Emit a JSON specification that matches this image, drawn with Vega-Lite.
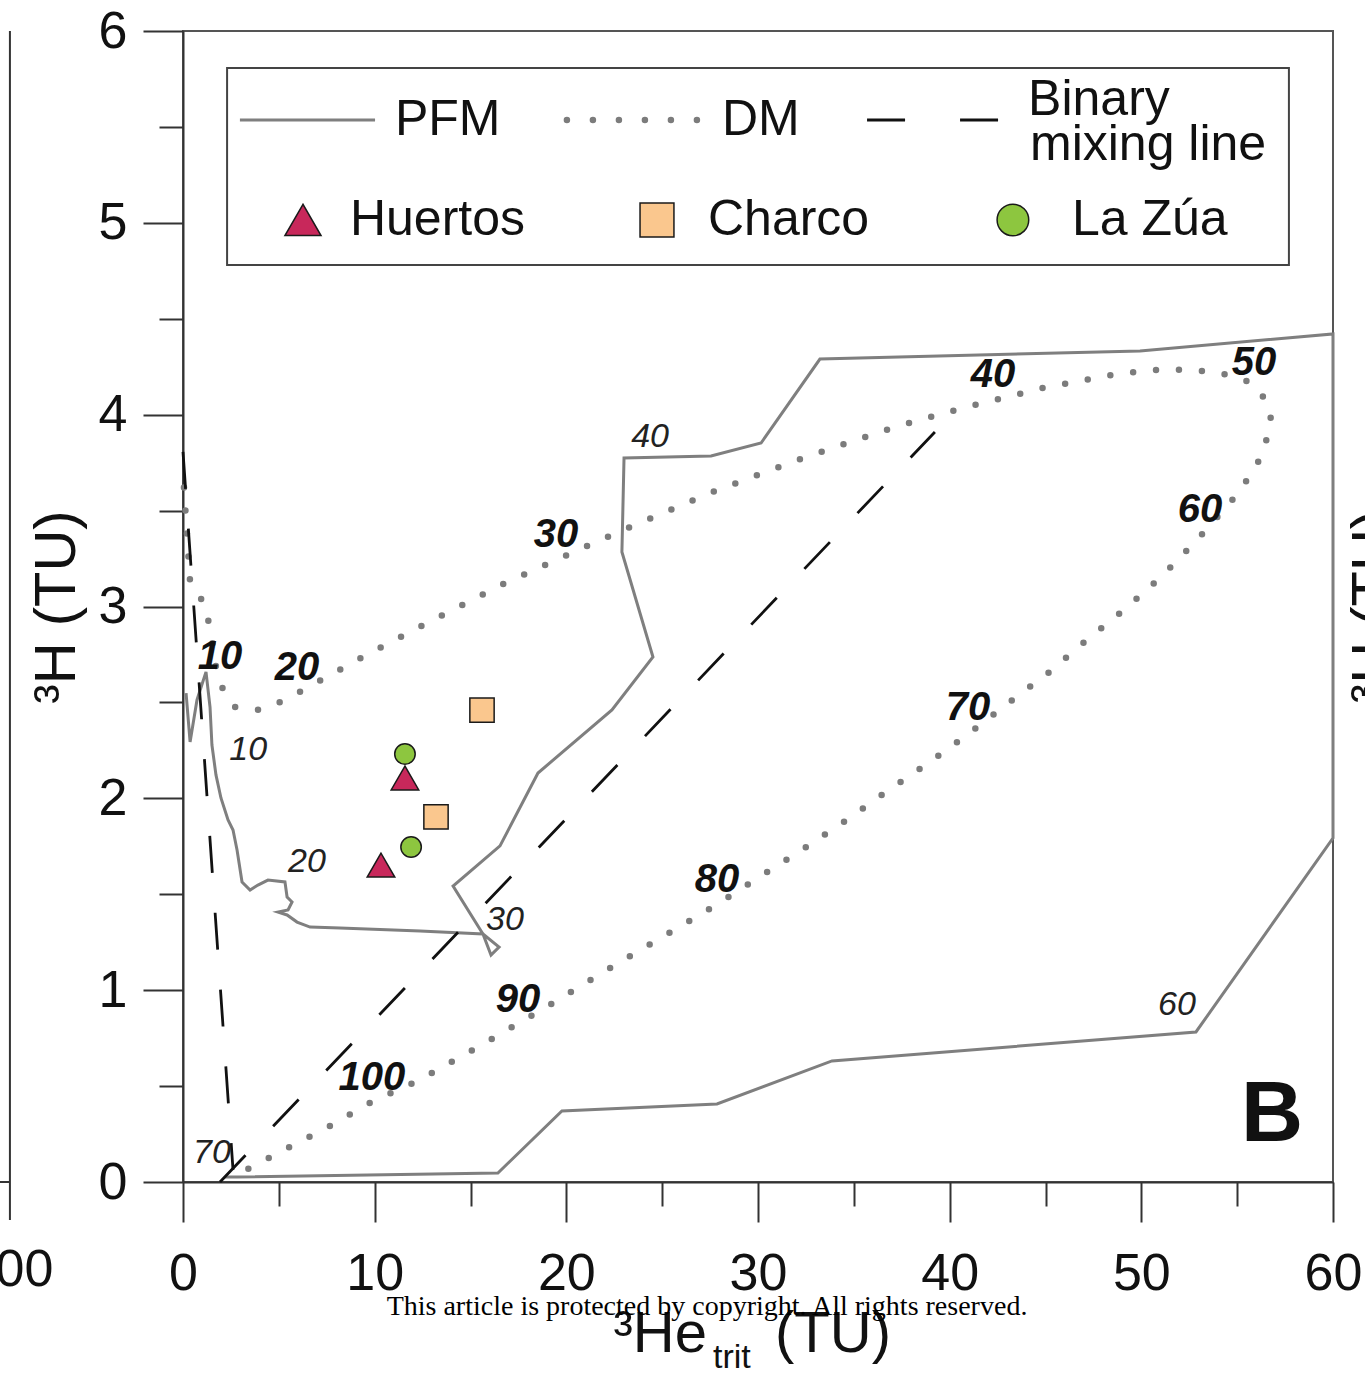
{
  "$schema": "https://vega.github.io/schema/vega-lite/v6.json",
  "width": 1150,
  "height": 1151,
  "autosize": {"type": "none"},
  "padding": {"left": 183, "top": 31, "right": 32, "bottom": 192},
  "background": "white",
  "config": {
    "view": {"stroke": "#555", "strokeWidth": 2},
    "font": "Liberation Sans",
    "text": {"font": "Liberation Sans"}
  },
  "datasets": {
    "pfm": [
      {"x": 0.16, "y": 2.549}, {"x": 0.37, "y": 2.294}, {"x": 0.73, "y": 2.513}, {"x": 1.2, "y": 2.659},
      {"x": 1.41, "y": 2.476}, {"x": 1.51, "y": 2.278}, {"x": 1.72, "y": 2.122}, {"x": 1.98, "y": 2.002},
      {"x": 2.35, "y": 1.887}, {"x": 2.61, "y": 1.835}, {"x": 2.82, "y": 1.731}, {"x": 3.08, "y": 1.564},
      {"x": 3.5, "y": 1.522}, {"x": 3.91, "y": 1.548}, {"x": 4.43, "y": 1.574}, {"x": 5.32, "y": 1.564},
      {"x": 5.43, "y": 1.486}, {"x": 5.69, "y": 1.46}, {"x": 5.48, "y": 1.418}, {"x": 4.96, "y": 1.407},
      {"x": 5.43, "y": 1.392}, {"x": 5.95, "y": 1.355}, {"x": 6.63, "y": 1.329}, {"x": 8.19, "y": 1.324},
      {"x": 12.37, "y": 1.308}, {"x": 15.65, "y": 1.293}, {"x": 16.07, "y": 1.183}, {"x": 16.49, "y": 1.225},
      {"x": 15.65, "y": 1.293}, {"x": 14.09, "y": 1.543}, {"x": 16.54, "y": 1.752}, {"x": 18.52, "y": 2.132},
      {"x": 22.38, "y": 2.461}, {"x": 24.52, "y": 2.737}, {"x": 22.9, "y": 3.284}, {"x": 23.01, "y": 3.774},
      {"x": 27.55, "y": 3.785}, {"x": 30.16, "y": 3.852}, {"x": 33.23, "y": 4.29}, {"x": 49.93, "y": 4.332},
      {"x": 60, "y": 4.421}, {"x": 60, "y": 1.793}, {"x": 52.85, "y": 0.782}, {"x": 33.86, "y": 0.631},
      {"x": 27.86, "y": 0.407}, {"x": 19.77, "y": 0.37}, {"x": 16.43, "y": 0.047}, {"x": 2.82, "y": 0.026},
      {"x": 2.19, "y": 0.026}
    ],
    "dm": [
      {"x": 0.05, "y": 3.62}, {"x": 0.37, "y": 3.128}, {"x": 0.83, "y": 3.07}, {"x": 1.25, "y": 2.961},
      {"x": 1.51, "y": 2.836}, {"x": 1.67, "y": 2.706}, {"x": 2.03, "y": 2.58}, {"x": 2.71, "y": 2.476},
      {"x": 3.97, "y": 2.461}, {"x": 5.22, "y": 2.507}, {"x": 6.37, "y": 2.57}, {"x": 9.76, "y": 2.758},
      {"x": 13.25, "y": 2.94}, {"x": 16.7, "y": 3.117}, {"x": 22.7, "y": 3.388}, {"x": 27.5, "y": 3.592},
      {"x": 32.35, "y": 3.774}, {"x": 37.3, "y": 3.941}, {"x": 41.06, "y": 4.045}, {"x": 44.87, "y": 4.139},
      {"x": 48.73, "y": 4.212}, {"x": 51.29, "y": 4.238}, {"x": 53.9, "y": 4.223}, {"x": 55.41, "y": 4.181},
      {"x": 56.24, "y": 4.118}, {"x": 56.77, "y": 3.998}, {"x": 56.56, "y": 3.878}, {"x": 56.09, "y": 3.753},
      {"x": 55.41, "y": 3.644}, {"x": 54.63, "y": 3.54}, {"x": 52.9, "y": 3.347}, {"x": 51.08, "y": 3.159},
      {"x": 49.15, "y": 2.987}, {"x": 47.22, "y": 2.831}, {"x": 45.08, "y": 2.648}, {"x": 42.99, "y": 2.492},
      {"x": 40.9, "y": 2.33}, {"x": 38.82, "y": 2.179}, {"x": 36.68, "y": 2.033}, {"x": 34.54, "y": 1.882},
      {"x": 32.35, "y": 1.736}, {"x": 30.16, "y": 1.595}, {"x": 27.97, "y": 1.454}, {"x": 26.87, "y": 1.387},
      {"x": 22.8, "y": 1.147}, {"x": 19.04, "y": 0.917}, {"x": 15.65, "y": 0.719}, {"x": 12.26, "y": 0.527},
      {"x": 9.91, "y": 0.422}, {"x": 7.67, "y": 0.292}, {"x": 5.37, "y": 0.172}, {"x": 3.08, "y": 0.052},
      {"x": 2.56, "y": 0.026}
    ],
    "mix": [
      {"seg": "a", "x": 0, "y": 3.806}, {"seg": "a", "x": 2.61, "y": 0.063},
      {"seg": "b", "x": 1.93, "y": 0}, {"seg": "b", "x": 39.23, "y": 3.91}
    ],
    "pts": [
      {"site": "La Zúa", "x": 11.58, "y": 2.231}, {"site": "La Zúa", "x": 11.9, "y": 1.746},
      {"site": "Charco", "x": 15.6, "y": 2.46}, {"site": "Charco", "x": 13.2, "y": 1.903},
      {"site": "Huertos", "x": 11.58, "y": 2.106}, {"site": "Huertos", "x": 10.33, "y": 1.652}
    ],
    "lab_pfm": [
      {"t": "10", "x": 3.4, "y": 2.252}, {"t": "20", "x": 6.47, "y": 1.668}, {"t": "30", "x": 16.8, "y": 1.366},
      {"t": "40", "x": 24.37, "y": 3.884}, {"t": "60", "x": 51.86, "y": 0.923}, {"t": "70", "x": 1.51, "y": 0.151}
    ],
    "lab_dm": [
      {"t": "10", "x": 1.93, "y": 2.737}, {"t": "20", "x": 5.95, "y": 2.679}, {"t": "30", "x": 19.46, "y": 3.373},
      {"t": "40", "x": 42.26, "y": 4.207}, {"t": "50", "x": 55.88, "y": 4.269}, {"t": "60", "x": 53.06, "y": 3.503},
      {"t": "70", "x": 40.96, "y": 2.471}, {"t": "80", "x": 27.86, "y": 1.574}, {"t": "90", "x": 17.48, "y": 0.949},
      {"t": "100", "x": 9.86, "y": 0.542}
    ],
    "leg_box": [{"x": 2.3, "x2": 57.7, "y": 4.78, "y2": 5.807}],
    "leg_lines": [
      {"style": "PFM", "x": 2.97, "x2": 10.02, "y": 5.536},
      {"style": "DM", "x": 20.03, "x2": 26.82, "y": 5.536},
      {"style": "Binary mixing line", "x": 35.69, "x2": 42.63, "y": 5.536}
    ],
    "leg_sym": [
      {"site": "Huertos", "x": 6.26, "y": 5.015},
      {"site": "Charco", "x": 24.73, "y": 5.015},
      {"site": "La Zúa", "x": 43.3, "y": 5.015}
    ],
    "leg_text": [
      {"t": "PFM", "x": 11.06, "y": 5.536}, {"t": "DM", "x": 28.12, "y": 5.536},
      {"t": "Binary", "x": 44.09, "y": 5.64}, {"t": "mixing line", "x": 44.19, "y": 5.406},
      {"t": "Huertos", "x": 8.71, "y": 5.015}, {"t": "Charco", "x": 27.39, "y": 5.015},
      {"t": "La Zúa", "x": 46.38, "y": 5.015}
    ],
    "xtitle_left": [{"t": "³He", "x": 27.34, "y": -0.886}],
    "xtitle_right": [{"t": "(TU)", "x": 30.89, "y": -0.886}],
    "xtitle_sub": [{"t": "trit", "x": 27.65, "y": -0.97}],
    "frag_rules": [
      {"x": -9.03, "x2": -9.03, "y": -0.198, "y2": 6.0},
      {"x": -9.6, "x2": -9.03, "y": 0, "y2": 0}
    ],
    "frag_text": [{"t": "100", "x": -9.03, "y": -0.459}],
    "frag_title": [{"t": "³H (TU)", "x": 62.2, "y": 3.0}],
    "panel": [{"t": "B", "x": 56.82, "y": 0.349}],
    "notice": [{"t": "This article is protected by copyright. All rights reserved.", "x": 27.34, "y": -0.652}]
  },
  "encoding": {
    "x": {
      "field": "x", "type": "quantitative",
      "scale": {"domain": [0, 60], "nice": false, "zero": false},
      "axis": {
        "title": null,
        "values": [0, 5, 10, 15, 20, 25, 30, 35, 40, 45, 50, 55, 60],
        "labelExpr": "datum.value % 10 === 0 ? '' + datum.value : ''",
        "tickSize": {"condition": {"test": "datum.value % 10 === 0", "value": 40}, "value": 24},
        "tickColor": "#333", "tickWidth": 2,
        "domainColor": "#333", "domainWidth": 2,
        "labelFont": "Liberation Sans", "labelFontSize": 52, "labelColor": "#111",
        "labelPadding": 26, "labelFlush": false, "labelOverlap": false, "labelBound": false,
        "grid": false
      }
    },
    "y": {
      "field": "y", "type": "quantitative",
      "scale": {"domain": [0, 6], "nice": false, "zero": false},
      "axis": {
        "title": "³H (TU)",
        "titleFont": "Liberation Sans", "titleFontSize": 58, "titleFontWeight": "normal", "titleColor": "#111",
        "titlePadding": 12,
        "values": [0, 0.5, 1, 1.5, 2, 2.5, 3, 3.5, 4, 4.5, 5, 5.5, 6],
        "labelExpr": "datum.value % 1 === 0 ? '' + datum.value : ''",
        "tickSize": {"condition": {"test": "datum.value % 1 === 0", "value": 40}, "value": 24},
        "tickColor": "#333", "tickWidth": 2,
        "domainColor": "#333", "domainWidth": 2,
        "labelFont": "Liberation Sans", "labelFontSize": 52, "labelColor": "#111",
        "labelPadding": 16, "labelFlush": false, "labelOverlap": false, "labelBound": false,
        "grid": false
      }
    }
  },
  "resolve": {"scale": {"size": "independent"}},
  "layer": [
    {"data": {"name": "pfm"}, "mark": {"type": "line", "color": "#7f7f7f", "strokeWidth": 3, "strokeJoin": "miter"},
     "encoding": {"order": {"value": null}}},
    {"data": {"name": "dm"}, "mark": {"type": "line", "color": "#7c7c7c", "strokeWidth": 6.5, "strokeDash": [0, 23], "strokeCap": "round"},
     "encoding": {"order": {"value": null}}},
    {"data": {"name": "mix"}, "mark": {"type": "line", "color": "#111", "strokeWidth": 2.8, "strokeDash": [37, 40]},
     "encoding": {"detail": {"field": "seg", "type": "nominal"}, "order": {"value": null}}},
    {"data": {"name": "lab_pfm"}, "mark": {"type": "text", "fontSize": 34, "fontStyle": "italic", "color": "#222", "align": "center", "baseline": "middle"},
     "encoding": {"text": {"field": "t", "type": "nominal"}}},
    {"data": {"name": "lab_dm"}, "mark": {"type": "text", "fontSize": 40, "fontStyle": "italic", "fontWeight": "bold", "color": "#111", "align": "center", "baseline": "middle"},
     "encoding": {"text": {"field": "t", "type": "nominal"}}},
    {"data": {"name": "pts"}, "mark": {"type": "point", "filled": true, "stroke": "#1a1a1a", "strokeWidth": 1.5, "opacity": 1},
     "encoding": {
       "shape": {"field": "site", "type": "nominal", "scale": {"domain": ["Huertos", "Charco", "La Zúa"], "range": ["triangle-up", "square", "circle"]}, "legend": null},
       "fill": {"field": "site", "type": "nominal", "scale": {"domain": ["Huertos", "Charco", "La Zúa"], "range": ["#C8285B", "#FAC78E", "#8DC63F"]}, "legend": null},
       "size": {"field": "site", "type": "nominal", "scale": {"domain": ["Huertos", "Charco", "La Zúa"], "range": [760, 420, 650]}, "legend": null}
     }},
    {"data": {"name": "leg_box"}, "mark": {"type": "rect", "fill": "white", "stroke": "#444", "strokeWidth": 2},
     "encoding": {"x2": {"field": "x2"}, "y2": {"field": "y2"}}},
    {"data": {"name": "leg_lines"}, "transform": [{"filter": "datum.style === 'PFM'"}],
     "mark": {"type": "rule", "color": "#7f7f7f", "strokeWidth": 3},
     "encoding": {"x2": {"field": "x2"}}},
    {"data": {"name": "leg_lines"}, "transform": [{"filter": "datum.style === 'DM'"}],
     "mark": {"type": "rule", "color": "#7c7c7c", "strokeWidth": 6.5, "strokeDash": [0, 26], "strokeCap": "round"},
     "encoding": {"x2": {"field": "x2"}}},
    {"data": {"name": "leg_lines"}, "transform": [{"filter": "datum.style === 'Binary mixing line'"}],
     "mark": {"type": "rule", "color": "#111", "strokeWidth": 3, "strokeDash": [38, 55]},
     "encoding": {"x2": {"field": "x2"}}},
    {"data": {"name": "leg_sym"}, "mark": {"type": "point", "filled": true, "stroke": "#1a1a1a", "strokeWidth": 1.5, "opacity": 1},
     "encoding": {
       "shape": {"field": "site", "type": "nominal", "legend": null},
       "fill": {"field": "site", "type": "nominal", "legend": null},
       "size": {"field": "site", "type": "nominal", "scale": {"domain": ["Huertos", "Charco", "La Zúa"], "range": [1300, 1000, 1000]}, "legend": null}
     }},
    {"data": {"name": "leg_text"}, "mark": {"type": "text", "fontSize": 50, "color": "#111", "align": "left", "baseline": "middle"},
     "encoding": {"text": {"field": "t", "type": "nominal"}}},
    {"data": {"name": "panel"}, "mark": {"type": "text", "fontSize": 86, "fontWeight": "bold", "color": "#111", "align": "center", "baseline": "middle"},
     "encoding": {"text": {"field": "t", "type": "nominal"}}},
    {"data": {"name": "xtitle_left"}, "mark": {"type": "text", "fontSize": 58, "color": "#111", "align": "right", "baseline": "alphabetic"},
     "encoding": {"text": {"field": "t", "type": "nominal"}}},
    {"data": {"name": "xtitle_right"}, "mark": {"type": "text", "fontSize": 58, "color": "#111", "align": "left", "baseline": "alphabetic"},
     "encoding": {"text": {"field": "t", "type": "nominal"}}},
    {"data": {"name": "xtitle_sub"}, "mark": {"type": "text", "fontSize": 34, "color": "#111", "align": "left", "baseline": "alphabetic"},
     "encoding": {"text": {"field": "t", "type": "nominal"}}},
    {"data": {"name": "frag_rules"}, "mark": {"type": "rule", "color": "#333", "strokeWidth": 2},
     "encoding": {"x2": {"field": "x2"}, "y2": {"field": "y2"}}},
    {"data": {"name": "frag_text"}, "mark": {"type": "text", "fontSize": 52, "color": "#111", "align": "center", "baseline": "middle"},
     "encoding": {"text": {"field": "t", "type": "nominal"}}},
    {"data": {"name": "frag_title"}, "mark": {"type": "text", "fontSize": 58, "color": "#111", "align": "center", "baseline": "middle", "angle": 270},
     "encoding": {"text": {"field": "t", "type": "nominal"}}},
    {"data": {"name": "notice"}, "mark": {"type": "text", "font": "Liberation Serif", "fontSize": 28, "color": "#000", "align": "center", "baseline": "middle"},
     "encoding": {"text": {"field": "t", "type": "nominal"}}}
  ]
}
